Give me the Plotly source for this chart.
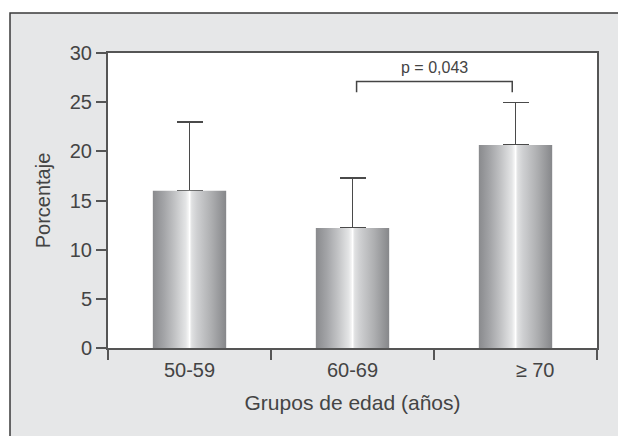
import plotly.graph_objects as go

# ---- data ----
categories = ["50-59", "60-69", "≥ 70"]
porcentaje = [16.0, 12.2, 20.65]
error_sup = [7.0, 5.1, 4.3]
tick_labels_y = [0, 5, 10, 15, 20, 25, 30]
p_text = "p = 0,043"
x_title = "Grupos de edad (años)"
y_title = "Porcentaje"

BAR_W = 0.45
FONT = "Liberation Sans, Arial, sans-serif"
TXT = "#444444"
AX = "#555555"
PANEL = "#e6e7e8"

xs = list(range(len(categories)))

fig = go.Figure()

# base bars with (upper) error bars
fig.add_trace(go.Bar(
    x=xs, y=porcentaje, width=BAR_W,
    marker=dict(color="#b9babc", line=dict(width=0)),
    error_y=dict(type="data", array=error_sup, arrayminus=[0]*len(xs),
                 symmetric=False, color="#4a4a4a", thickness=1.6, width=13),
    hoverinfo="x+y", showlegend=False,
))

# metallic gradient overlay for each bar
grad = [[0.0, "#898a8d"], [0.15, "#a3a4a7"], [0.3, "#c2c3c5"], [0.45, "#e4e5e6"],
        [0.49, "#f7f7f7"], [0.5, "#ffffff"], [0.53, "#e0e1e2"], [0.6, "#cfd0d2"],
        [0.8, "#adaeb0"], [1.0, "#86878a"]]
for xi, v in zip(xs, porcentaje):
    x0, x1 = xi - BAR_W / 2, xi + BAR_W / 2
    fig.add_trace(go.Scatter(
        x=[x0, x1, x1, x0, x0], y=[0, 0, v, v, 0],
        mode="lines", line=dict(width=0), fill="toself",
        fillcolor="#c0c1c3",
        fillgradient=dict(type="horizontal", colorscale=grad),
        hoverinfo="skip", showlegend=False,
    ))

# significance bracket between 60-69 and >=70
b_left, b_right, b_low, b_top = 1.025, 1.98, 26.0, 27.1
fig.add_shape(type="path", xref="x", yref="y",
              path=f"M {b_left} {b_low} L {b_left} {b_top} L {b_right} {b_top} L {b_right} {b_low}",
              line=dict(color="#444444", width=1.5))
fig.add_annotation(x=1.5, y=28.55, xref="x", yref="y", text=p_text, showarrow=False,
                   font=dict(family=FONT, size=16, color=TXT))

# white page strips left / above the light-gray panel, then the panel border
PX0, PY1 = -0.2004, 1.1356
fig.add_shape(type="rect", xref="paper", yref="paper", x0=-0.5, x1=PX0, y0=-0.6, y1=1.5,
              fillcolor="white", line=dict(width=0), layer="below")
fig.add_shape(type="rect", xref="paper", yref="paper", x0=-0.5, x1=1.5, y0=PY1, y1=1.5,
              fillcolor="white", line=dict(width=0), layer="below")
fig.add_shape(type="path", xref="paper", yref="paper",
              path=f"M {PX0} -0.6 L {PX0} {PY1} L 1.5 {PY1}",
              line=dict(color="#3a3a3a", width=1.5), layer="below")
fig.add_shape(type="rect", xref="paper", yref="paper", x0=0, x1=1, y0=0, y1=1,
              fillcolor="white", line=dict(width=0), layer="below")

fig.update_layout(
    width=618, height=436,
    margin=dict(l=108, r=21, t=53, b=88),
    paper_bgcolor=PANEL, plot_bgcolor="white",
    font=dict(family=FONT, color=TXT),
    bargap=0,
    xaxis=dict(
        range=[-0.5, 2.5], showgrid=False, zeroline=False,
        showline=True, linecolor=AX, linewidth=2, mirror=True,
        tickmode="array", tickvals=[0, 1, 2.12], ticktext=categories,
        ticks="outside", ticklen=3, tickcolor="rgba(0,0,0,0)",
        tickfont=dict(family=FONT, size=20, color=TXT),
        minor=dict(tickmode="array", tickvals=[-0.5, 0.5, 1.5, 2.5], ticks="outside",
                   ticklen=10, tickwidth=1.6, tickcolor=AX, showgrid=False),
        title=dict(text=x_title, font=dict(family=FONT, size=21, color=TXT), standoff=15),
        automargin=False, fixedrange=True,
    ),
    yaxis=dict(
        range=[0, 30], showgrid=False, zeroline=False,
        showline=True, linecolor=AX, linewidth=2, mirror=True,
        tickmode="array", tickvals=tick_labels_y,
        ticks="outside", ticklen=10, tickwidth=1.6, tickcolor=AX,
        tickfont=dict(family=FONT, size=20, color=TXT),
        title=dict(text=y_title, font=dict(family=FONT, size=20, color=TXT), standoff=14),
        automargin=False, fixedrange=True,
    ),
)

fig.write_html(
    "out.html",
    config={"displayModeBar": False},
    post_script=("document.body.style.margin='0';document.body.style.overflow='hidden';"
                 "document.documentElement.style.overflow='hidden';"),
)
